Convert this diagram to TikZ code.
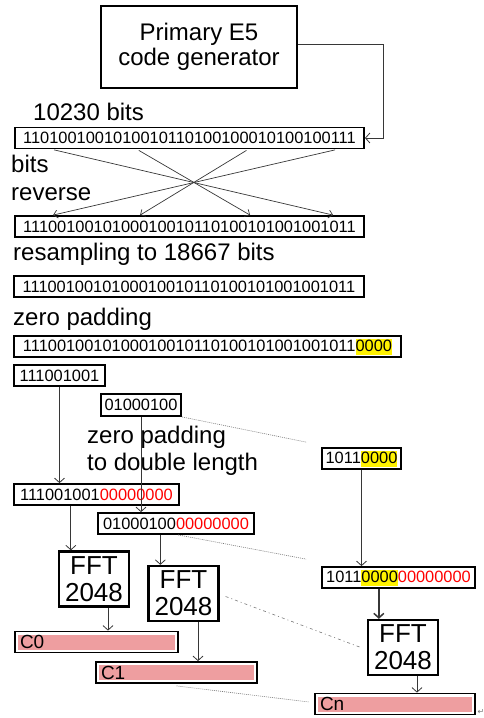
\documentclass[tikz,border=0pt]{standalone}
\usepackage{fontspec}
\setmainfont{Liberation Sans}
\newfontfamily\symfont{DejaVu Sans}
\usetikzlibrary{arrows.meta}
\definecolor{barpink}{RGB}{238,158,160}
\definecolor{linkgray}{RGB}{55,55,55}
\definecolor{guidegray}{RGB}{120,120,120}
% yellow-marked padding bits and red appended zeros
\newcommand\hly[1]{{\setlength{\fboxsep}{0pt}\colorbox{yellow}{\rule[-3pt]{0pt}{16pt}#1}}}
\newcommand\rd[1]{\textcolor{red}{#1}}
\begin{document}
\begin{tikzpicture}[x=1pt,y=-1pt,
  bits/.style={draw, line width=1.8pt, fill=white, inner sep=0pt,
    font=\fontsize{16.4}{19}\selectfont, minimum height=21pt},
  lbl/.style={inner sep=0pt, anchor=base west, font=\fontsize{24}{27}\selectfont},
  fftbox/.style={draw, line width=2.3pt, fill=white, align=center, inner sep=0pt,
    font=\fontsize{26}{27}\selectfont, minimum width=70pt, minimum height=55pt},
  cbar/.style={draw, line width=1.8pt, fill=white, inner sep=0pt, minimum height=21pt,
    font=\fontsize{19}{20}\selectfont, align=left,
    path picture={\fill[barpink]
      ([xshift=3pt,yshift=-3pt]path picture bounding box.north west) rectangle
      ([xshift=-3pt,yshift=3pt]path picture bounding box.south east);}},
  conn/.style={draw=linkgray, line width=0.8pt, -{Straight Barb[length=4.5pt,width=10pt]}},
  cross/.style={draw=linkgray, line width=0.7pt, shorten <=2pt,
    -{Straight Barb[length=4pt,width=8pt]}},
  guide/.style={draw=guidegray, line width=0.6pt, dash pattern=on 1pt off 1pt}]
\useasboundingbox (0,0) rectangle (484,718);

% code generator
\node[draw, line width=1.8pt, align=center, minimum width=196pt, minimum height=82pt,
  font=\fontsize{24}{25.5}\selectfont] (prim) at (199,47) {Primary E5\\code generator};

% code sequences
\node[lbl] (lenlbl) at (33,120) {10230 bits};
\node[bits, minimum width=349pt] (b1) at (189.5,138) {1101001001010010110100100010100100111};
\node[lbl] (revA) at (11,172) {bits};
\node[lbl] (revB) at (11,200) {reverse};
\node[bits, minimum width=349pt] (b2) at (189.5,226.5) {1110010010100010010110100101001001011};
\node[lbl] (rslbl) at (13,260) {resampling to 18667 bits};
\node[bits, minimum width=350pt] (b3) at (189,286.5) {1110010010100010010110100101001001011};
\node[lbl] (zplbl) at (13,325) {zero padding};
\node[bits, minimum width=387pt] (b4) at (207.5,346.5) {1110010010100010010110100101001001011\hly{0000}};

% segments
\node[bits, minimum width=91pt] (b5) at (59.5,375.5) {111001001};
\node[bits, minimum width=80pt, minimum height=22pt] (b6) at (141,405) {01000100};
\node[inner sep=0pt, anchor=north west, align=left, font=\fontsize{24}{27}\selectfont]
  (dbl) at (87,426) {zero padding\\to double length};
\node[bits, minimum width=79pt] (b7) at (361.5,458.5) {1011\hly{0000}};
\node[bits, minimum width=165pt] (b8) at (96.5,494.5) {111001001\rd{00000000}};
\node[bits, minimum width=156pt] (b9) at (176,523.5) {01000100\rd{00000000}};
\node[bits, minimum width=153pt] (b10) at (398.5,577.5) {1011\hly{0000}\rd{00000000}};

% transforms
\node[fftbox] (fft1) at (94,579) {FFT\\2048};
\node[fftbox] (fft2) at (183.5,593.5) {FFT\\2048};
\node[fftbox] (fft3) at (403,647.5) {FFT\\2048};

% spectra
\node[cbar, minimum width=163pt, text width=153pt] (c0) at (96.5,642) {C0};
\node[cbar, minimum width=161pt, text width=151pt] (c1) at (176.5,672.5) {C1};
\node[cbar, minimum width=160pt, text width=150pt] (cn) at (395,704) {Cn};
\node[inner sep=0pt, font=\symfont\fontsize{8}{8}\selectfont, text=guidegray] (ret) at (481,712) {↵};

% guide lines towards the last segment
\draw[guide] (b6.south east) -- ([xshift=-15pt,yshift=5pt]b7.north west);
\draw[guide] ([xshift=2pt]b9.south) -- ([xshift=-15pt,yshift=7pt]b10.north west);
\draw[guide, dash pattern=on 3pt off 3pt on 1pt off 3pt] ([xshift=6pt,yshift=-3pt]fft2.east) -- ([xshift=-6pt]fft3.west);
\draw[guide] ([yshift=-2pt]c1.south) -- ([xshift=-5pt,yshift=2pt]cn.west);

% connectors
\draw[conn] ([yshift=3pt]prim.east) -| ([xshift=18pt]b1.east) -- (b1.east);
\draw[cross] ([xshift=38pt]b1.south west) -- ([xshift=319pt]b2.north west);
\draw[cross] ([xshift=123pt]b1.south west) -- ([xshift=236pt]b2.north west);
\draw[cross] ([xshift=234pt]b1.south west) -- ([xshift=126pt]b2.north west);
\draw[cross] ([xshift=323pt]b1.south west) -- ([xshift=39pt]b2.north west);
\draw[conn] (b5.south) -- (b5.south |- b8.north);
\draw[conn] (b6.south) -- (b6.south |- b9.north);
\draw[conn] (b7.south) -- (b7.south |- b10.north);
\draw[conn] ([xshift=13pt]fft1.north west |- b8.south) -- ([xshift=13pt]fft1.north west);
\draw[conn] ([xshift=13pt]fft2.north west |- b9.south) -- ([xshift=13pt]fft2.north west);
\draw[conn, line width=1.5pt] ([xshift=12pt]fft3.north west |- b10.south) -- ([xshift=12pt]fft3.north west);
\draw[conn] ([xshift=14pt]fft1.south) -- ([xshift=14pt]fft1.south |- c0.north);
\draw[conn] ([xshift=14.5pt]fft2.south) -- ([xshift=14.5pt]fft2.south |- c1.north);
\draw[conn] ([xshift=14pt]fft3.south) -- ([xshift=14pt]fft3.south |- cn.north);
\end{tikzpicture}
\end{document}
